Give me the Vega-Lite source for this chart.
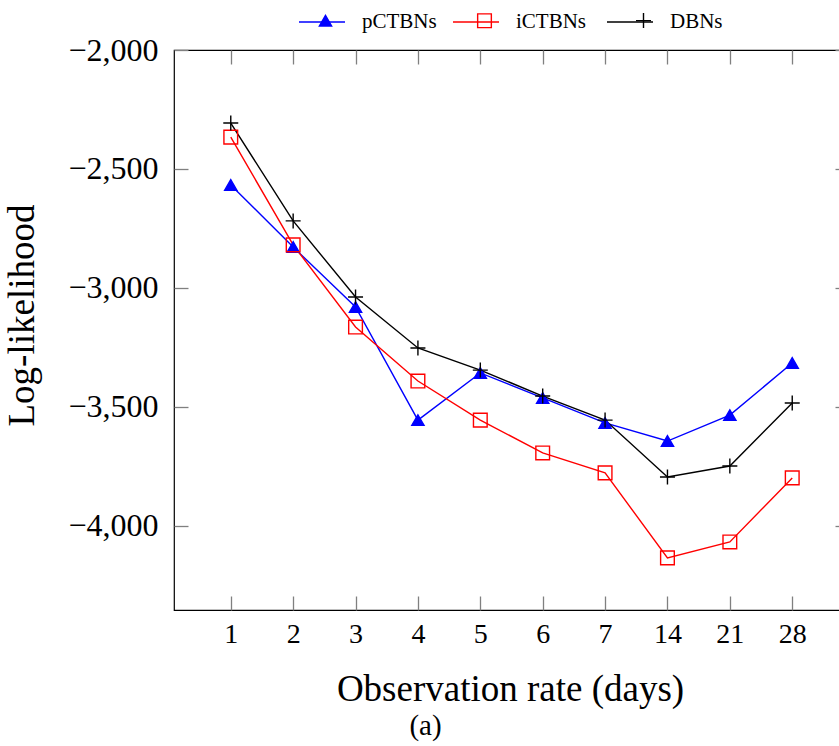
{
  "$schema": "https://vega.github.io/schema/vega-lite/v6.json",
  "width": 675,
  "height": 560,
  "autosize": {"type": "none"},
  "padding": {"left": 174, "top": 50, "right": 0, "bottom": 136},
  "background": "white",
  "title": {"text": "(a)", "orient": "bottom", "anchor": "middle", "dx": -86, "offset": 5, "fontSize": 29, "font": "Liberation Serif", "fontWeight": "normal", "color": "black"},
  "config": {
    "view": {"stroke": "black", "strokeWidth": 1.2},
    "font": "Liberation Serif",
    "axis": {"grid": false, "domain": false, "ticks": true, "tickColor": "#808080", "tickWidth": 1.3, "labelColor": "black", "titleColor": "black", "labelFont": "Liberation Serif", "titleFont": "Liberation Serif", "titleFontWeight": "normal"}
  },
  "data": {"values": [
    {"rate": 1, "model": "pCTBNs", "ll": -2567},
    {"rate": 2, "model": "pCTBNs", "ll": -2828},
    {"rate": 3, "model": "pCTBNs", "ll": -3080},
    {"rate": 4, "model": "pCTBNs", "ll": -3555},
    {"rate": 5, "model": "pCTBNs", "ll": -3357},
    {"rate": 6, "model": "pCTBNs", "ll": -3462},
    {"rate": 7, "model": "pCTBNs", "ll": -3567},
    {"rate": 14, "model": "pCTBNs", "ll": -3643},
    {"rate": 21, "model": "pCTBNs", "ll": -3534},
    {"rate": 28, "model": "pCTBNs", "ll": -3315},
    {"rate": 1, "model": "iCTBNs", "ll": -2366},
    {"rate": 2, "model": "iCTBNs", "ll": -2819},
    {"rate": 3, "model": "iCTBNs", "ll": -3164},
    {"rate": 4, "model": "iCTBNs", "ll": -3391},
    {"rate": 5, "model": "iCTBNs", "ll": -3555},
    {"rate": 6, "model": "iCTBNs", "ll": -3693},
    {"rate": 7, "model": "iCTBNs", "ll": -3777},
    {"rate": 14, "model": "iCTBNs", "ll": -4134},
    {"rate": 21, "model": "iCTBNs", "ll": -4067},
    {"rate": 28, "model": "iCTBNs", "ll": -3798},
    {"rate": 1, "model": "DBNs", "ll": -2307},
    {"rate": 2, "model": "DBNs", "ll": -2718},
    {"rate": 3, "model": "DBNs", "ll": -3038},
    {"rate": 4, "model": "DBNs", "ll": -3252},
    {"rate": 5, "model": "DBNs", "ll": -3345},
    {"rate": 6, "model": "DBNs", "ll": -3454},
    {"rate": 7, "model": "DBNs", "ll": -3555},
    {"rate": 14, "model": "DBNs", "ll": -3794},
    {"rate": 21, "model": "DBNs", "ll": -3748},
    {"rate": 28, "model": "DBNs", "ll": -3483}
  ]},
  "layer": [
    {
      "mark": {"type": "line", "strokeWidth": 1.4},
      "encoding": {
        "x": {"field": "rate", "type": "ordinal", "scale": {"type": "point", "padding": 0.91},
              "axis": {"orient": "bottom", "labelAngle": 0, "offset": -14, "tickSize": 14, "labelPadding": 10, "labelFontSize": 28,
                       "title": "Observation rate (days)", "titleFontSize": 37, "titleX": 336, "titleY": 104, "titleBaseline": "alphabetic"}},
        "y": {"field": "ll", "type": "quantitative", "scale": {"domain": [-4353, -2000], "nice": false, "zero": false},
              "axis": {"orient": "left", "values": [-4000, -3500, -3000, -2500, -2000], "format": ",.0f", "offset": -14, "tickSize": 14, "labelPadding": 16, "labelFontSize": 32,
                       "title": "Log-likelihood", "titleFontSize": 37, "titleAngle": -90, "titleX": -155, "titleY": 265, "titleBaseline": "alphabetic"}},
        "stroke": {"field": "model", "type": "nominal", "sort": ["pCTBNs", "iCTBNs", "DBNs"],
                   "scale": {"range": ["#0000ff", "#ff0000", "#000000"]},
                   "legend": {"title": null, "orient": "none", "legendX": 124, "legendY": -52, "direction": "horizontal", "columns": 3, "gridAlign": "all", "padding": 0,
                              "labelFontSize": 21, "labelFont": "Liberation Serif", "labelColor": "black", "labelOffset": 16, "columnPadding": 13,
                              "symbolType": "stroke", "symbolSize": 2116, "symbolStrokeWidth": 1.4}}
      }
    },
    {
      "mark": {"type": "point", "filled": false, "strokeWidth": 1.4, "opacity": 1},
      "encoding": {
        "x": {"field": "rate", "type": "ordinal", "axis": {"orient": "top", "labels": false, "title": null, "offset": -14, "tickSize": 14}},
        "y": {"field": "ll", "type": "quantitative", "axis": {"orient": "right", "labels": false, "title": null, "offset": -14, "tickSize": 14, "values": [-4000, -3500, -3000, -2500, -2000]}},
        "color": {"field": "model", "type": "nominal",
                  "scale": {"domain": ["pCTBNs", "iCTBNs", "DBNs"], "range": ["#0000ff", "#ff0000", "#000000"]},
                  "legend": {"title": null, "orient": "none", "legendX": 141, "legendY": -40, "direction": "horizontal", "columns": 3, "gridAlign": "all", "padding": 0,
                             "labelExpr": "''", "labelFontSize": 21, "labelOffset": 0, "columnPadding": 138,
                             "symbolSize": 144, "symbolStrokeWidth": 1.4, "symbolOpacity": 1}},
        "shape": {"field": "model", "type": "nominal", "scale": {"domain": ["pCTBNs", "iCTBNs", "DBNs"], "range": ["triangle-up", "square", "M-1,0H1M0,-1V1"]}},
        "fill": {"field": "model", "type": "nominal", "scale": {"domain": ["pCTBNs", "iCTBNs", "DBNs"], "range": ["#0000ff", "transparent", "transparent"]}},
        "size": {"field": "model", "type": "nominal", "scale": {"domain": ["pCTBNs", "iCTBNs", "DBNs"], "range": [150, 225, 170]}, "legend": null}
      }
    }
  ],
  "resolve": {"axis": {"x": "independent", "y": "independent"}}
}
